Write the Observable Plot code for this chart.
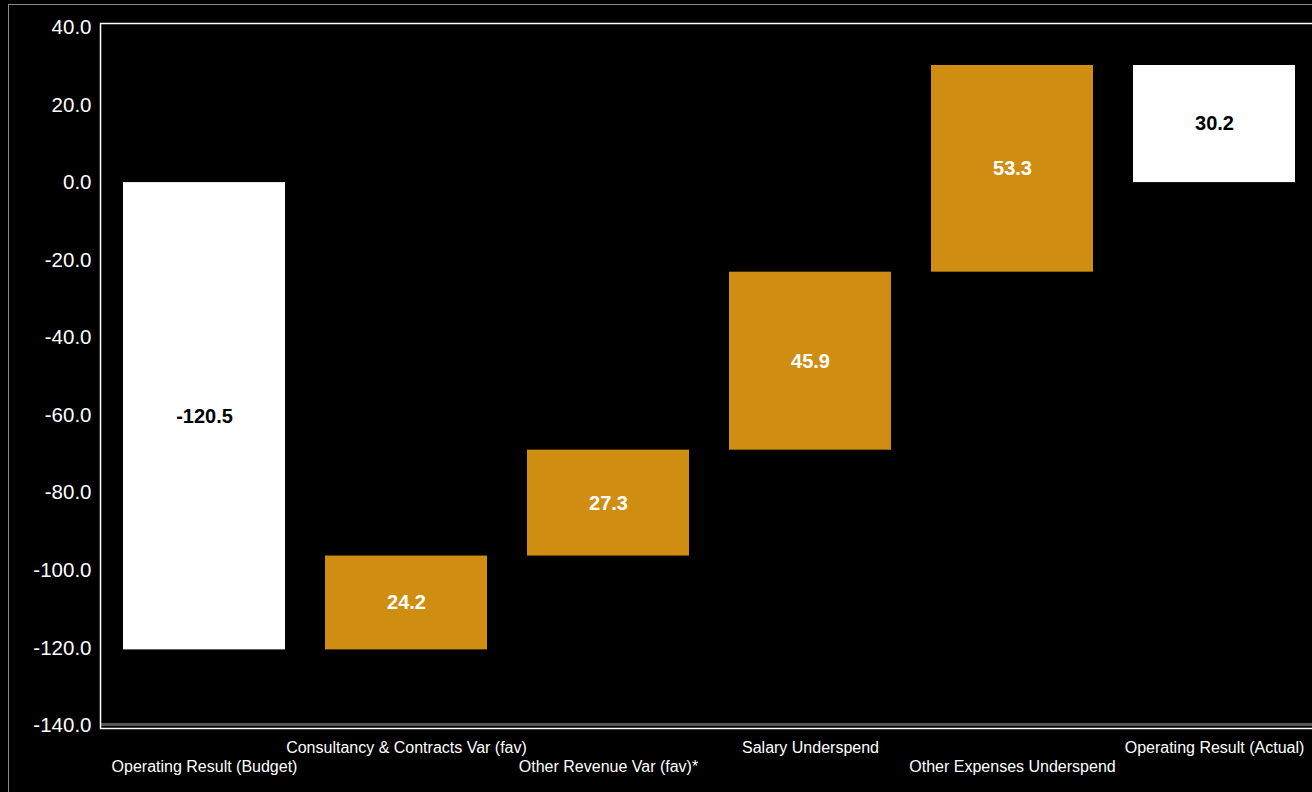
<!DOCTYPE html>
<html>
<head>
<meta charset="utf-8">
<script src="https://cdn.jsdelivr.net/npm/d3@7"></script>
<script src="https://cdn.jsdelivr.net/npm/@observablehq/plot@0.6"></script>
<style>
  html, body { margin: 0; padding: 0; background: #000; overflow: hidden; }
  #wrap { position: relative; width: 1312px; height: 792px; overflow: hidden; }
  #border { position: absolute; left: 8px; top: 4px; right: 0; bottom: 0; border-left: 1.5px solid #8a8a8a; border-top: 1.5px solid #8a8a8a; pointer-events: none; }
  #chart { position: absolute; left: 0; top: 0; width: 1312px; height: 792px; overflow: hidden; }
  #chart svg { overflow: hidden; }
</style>
</head>
<body>
<div id="wrap"><div id="chart"></div><div id="border"></div></div>
<script>
const categories = [
  "Operating Result (Budget)",
  "Consultancy & Contracts Var (fav)",
  "Other Revenue Var (fav)*",
  "Salary Underspend",
  "Other Expenses Underspend",
  "Operating Result (Actual)"
];
const values = [-120.5, 24.2, 27.3, 45.9, 53.3, 30.2];
const kinds = ["total", "delta", "delta", "delta", "delta", "total"];
const yTicks = [-140, -120, -100, -80, -60, -40, -20, 0, 20, 40];

// build waterfall table from the arrays
let running = 0;
const rows = categories.map((c, i) => {
  let start, end;
  if (kinds[i] === "total") { start = 0; end = values[i]; running = values[i]; }
  else { start = running; end = running + values[i]; running = end; }
  return { category: c, value: values[i], kind: kinds[i], start, end, mid: (start + end) / 2, idx: i };
});

const WHITE = "#ffffff";
const ORANGE = "#CF8E11";

const chart = Plot.plot({
  width: 1312,
  height: 792,
  marginLeft: 100,
  marginRight: 0,
  marginTop: 23,
  marginBottom: 64,
  style: { background: "#000", color: "#fff", fontFamily: "'Liberation Sans', Arial, sans-serif", overflow: "hidden" },
  x: { domain: categories, range: [101, 1317], paddingInner: 0.2, paddingOuter: 0.1, axis: null },
  y: { domain: [-140, 40], range: [725, 27], axis: null },
  marks: [
    Plot.rectY(rows, {
      x: "category", y1: "start", y2: "end",
      fill: d => d.kind === "total" ? WHITE : ORANGE
    }),
    Plot.text(rows, {
      x: "category", y: "mid",
      text: d => d.value.toFixed(1),
      fill: d => d.kind === "total" ? "#000" : "#fff",
      fontSize: 20, fontWeight: "bold"
    }),
    Plot.ruleY([-140], { stroke: "#555", strokeWidth: 3, dy: -1 }),
    Plot.frame({ stroke: "#fff", strokeWidth: 1.5, insetRight: -10 }),
    Plot.axisY({
      ticks: yTicks, tickSize: 0, tickPadding: 9,
      tickFormat: d => d.toFixed(1), fontSize: 20.5, color: "#fff"
    }),
    Plot.text(rows.filter(d => d.idx % 2 === 1), {
      x: "category", frameAnchor: "bottom", dy: 24,
      text: "category", fill: "#fff", fontSize: 16
    }),
    Plot.text(rows.filter(d => d.idx % 2 === 0), {
      x: "category", frameAnchor: "bottom", dy: 43,
      text: "category", fill: "#fff", fontSize: 16
    })
  ]
});
document.getElementById("chart").appendChild(chart);
</script>
</body>
</html>
